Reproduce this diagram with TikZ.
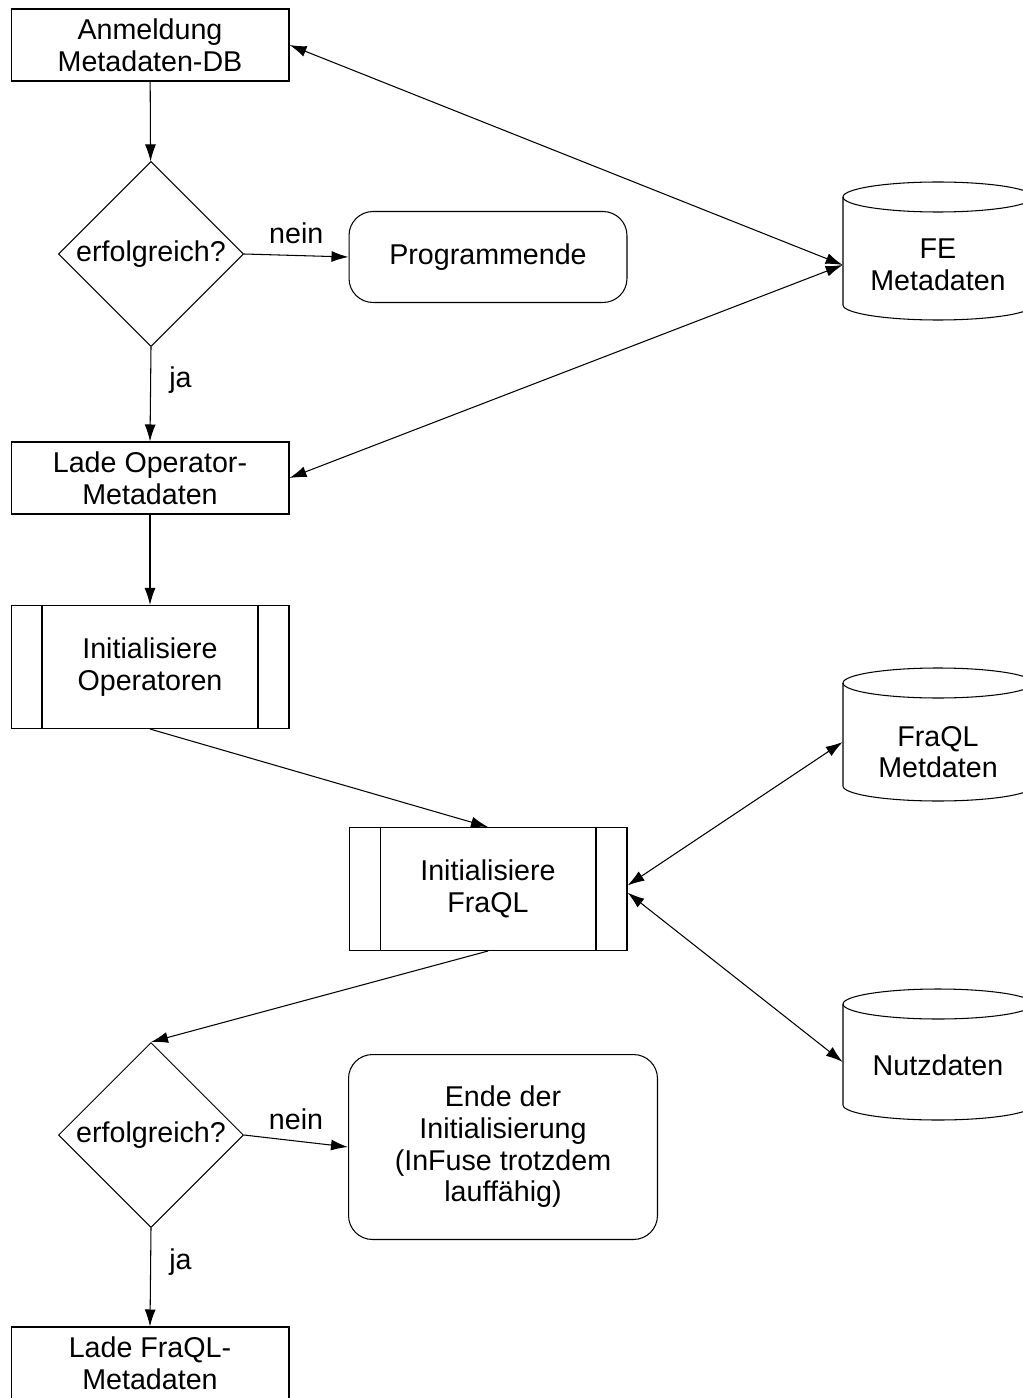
\documentclass[tikz,border=0pt]{standalone}
\usepackage{fontspec}
\setmainfont{Liberation Sans}
\usetikzlibrary{arrows.meta,shapes.geometric}

\tikzset{
  txt/.style={font=\fontsize{16.3pt}{18pt}\selectfont, align=center},
  box/.style={txt, draw, line width=0.6pt, minimum width=5.56cm, minimum height=1.44cm, inner sep=0pt},
  subproc/.style={box, minimum height=2.46cm,
    path picture={
      \draw ([xshift=0.62cm]path picture bounding box.north west) -- ([xshift=0.62cm]path picture bounding box.south west);
      \draw ([xshift=-0.62cm]path picture bounding box.north east) -- ([xshift=-0.62cm]path picture bounding box.south east);
    }},
  decision/.style={txt, draw, diamond, line width=0.6pt, minimum width=3.7cm, minimum height=3.7cm, inner sep=0pt},
  terminal/.style={txt, draw, rounded corners=0.48cm, line width=0.6pt, inner sep=0pt},
  dblabel/.style={txt, minimum width=3.8cm, inner sep=0pt},
  arr/.style={-{Latex[length=0.34cm,width=0.22cm]}, line width=0.6pt},
  darr/.style={{Latex[length=0.34cm,width=0.22cm]}-{Latex[length=0.34cm,width=0.22cm]}, line width=0.6pt},
}

% cylinder: left x, top y, bottom y (pixel units)
\newcommand{\dbase}[3]{
  \draw[line width=0.6pt] (#1+95,#2+15) ellipse [x radius=1.9cm, y radius=0.3cm];
  \draw[line width=0.6pt] (#1,#2+15) -- (#1,#3-15)
    arc[start angle=180, end angle=360, x radius=1.9cm, y radius=0.3cm] -- (#1+190,#2+15);
}

\begin{document}
\begin{tikzpicture}[x=0.02cm, y=-0.02cm]
  \useasboundingbox (0,0) rectangle (1023,1398);

  % Datenbanken
  \dbase{843}{182}{320}
  \dbase{843}{668}{801}
  \dbase{843}{989}{1120}
  \node[dblabel] (fe) at (938,265) {FE\\Metadaten};
  \node[dblabel] (fm) at (938,752) {FraQL\\Metdaten};
  \node[dblabel] (nutz) at (938,1065) {Nutzdaten};

  % Ablauf
  \node[box] (anm) at (150,45) {Anmeldung\\Metadaten-DB};
  \node[decision] (erf1) at (151,254) {erfolgreich?};
  \node[terminal, minimum width=5.56cm, minimum height=1.82cm] (ende1) at (488,257) {Programmende};
  \node[box] (ladeop) at (150,478) {Lade Operator-\\Metadaten};
  \node[subproc] (initop) at (150,667) {Initialisiere\\Operatoren};
  \node[subproc] (initfq) at (488,889) {Initialisiere\\FraQL};
  \node[decision] (erf2) at (151,1135) {erfolgreich?};
  \node[terminal, minimum width=6.18cm, minimum height=3.7cm] (ende2) at (503,1147)
    {Ende der\\Initialisierung\\(InFuse trotzdem\\lauffähig)};
  \node[box] (ladefq) at (150,1363) {Lade FraQL-\\Metadaten};

  % Verbindungen
  \draw[arr] (anm) -- (erf1);
  \draw[arr] (erf1.east) -- node[txt, above=3pt] {nein} (ende1.west);
  \draw[arr] (erf1.south) -- node[txt, right=7pt, pos=0.35] {ja} (ladeop.north);
  \draw[darr] (anm.east) -- (fe.west);
  \draw[darr] (fe.west) -- (ladeop.east);
  \draw[arr] (ladeop) -- (initop);
  \draw[arr] (initop.south) -- (initfq.north);
  \draw[darr] ([yshift=2pt]initfq.east) -- ([yshift=0.2cm]fm.west);
  \draw[darr] ([yshift=-2pt]initfq.east) -- ([yshift=0.06cm]nutz.west);
  \draw[arr] (initfq.south) -- (erf2.north);
  \draw[arr] (erf2.east) -- node[txt, above=3pt] {nein} (ende2.west);
  \draw[arr] (erf2.south) -- node[txt, right=7pt, pos=0.35] {ja} (ladefq.north);
\end{tikzpicture}
\end{document}
